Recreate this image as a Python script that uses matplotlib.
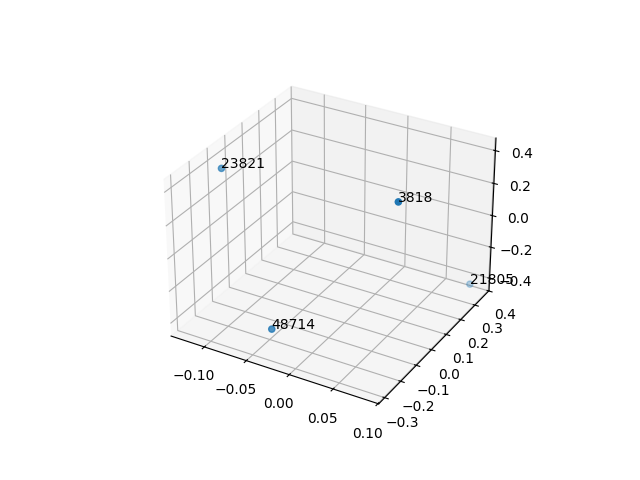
import matplotlib
matplotlib.use("Agg")
import matplotlib.pyplot as plt

# point labels and their 3D coordinates
labels = ["23821", "3818", "21805", "48714"]
xs = [-0.125, 0.069, 0.0855, -0.029]
ys = [-0.095, -0.052, 0.355, -0.290]
zs = [0.370, 0.415, -0.420, -0.293]

fig = plt.figure(figsize=(6.4, 4.8))
ax = fig.add_subplot(projection="3d")
ax.scatter(xs, ys, zs)
for lab, x, y, z in zip(labels, xs, ys, zs):
    ax.text(x, y, z, lab)

fig.savefig("out.png", dpi=100)
